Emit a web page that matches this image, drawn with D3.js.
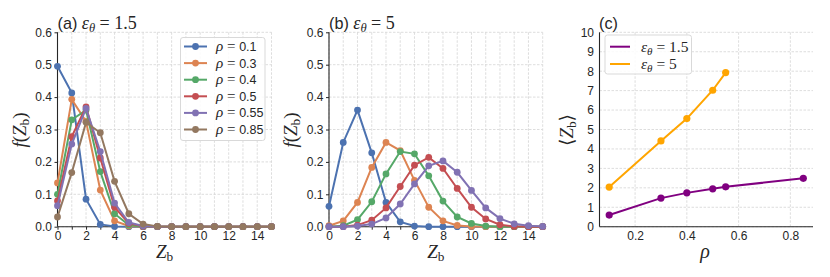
<!DOCTYPE html>
<html>
<head>
<meta charset="utf-8">
<script src="https://cdn.jsdelivr.net/npm/d3@7"></script>
<style>
body { margin: 0; background: #fff; }
svg text { font-family: "Liberation Sans", Arial, sans-serif; }
.math { font-family: "Liberation Serif", "DejaVu Serif", serif; }
</style>
</head>
<body>
<script>
// data
var zb = d3.range(0, 16);
var rhoLabels = ["0.1", "0.3", "0.4", "0.5", "0.55", "0.85"];
var colors = ["#4c72b0", "#dd8452", "#55a868", "#c44e52", "#8172b3", "#937860"];

// panel (a), eps = 1.5
var fA_01 = [0.495, 0.413, 0.085, 0.007, 0.001, 0, 0, 0, 0, 0, 0, 0, 0, 0, 0, 0];
var fA_03 = [0.135, 0.393, 0.325, 0.113, 0.018, 0.002, 0, 0, 0, 0, 0, 0, 0, 0, 0, 0];
var fA_04 = [0.100, 0.330, 0.360, 0.170, 0.040, 0.005, 0, 0, 0, 0, 0, 0, 0, 0, 0, 0];
var fA_05 = [0.080, 0.278, 0.370, 0.212, 0.060, 0.010, 0.001, 0, 0, 0, 0, 0, 0, 0, 0, 0];
var fA_055 = [0.065, 0.255, 0.365, 0.232, 0.073, 0.013, 0.002, 0, 0, 0, 0, 0, 0, 0, 0, 0];
var fA_085 = [0.030, 0.167, 0.322, 0.290, 0.140, 0.040, 0.008, 0.001, 0, 0, 0, 0, 0, 0, 0, 0];

// panel (b), eps = 5
var fB_01 = [0.063, 0.260, 0.360, 0.228, 0.075, 0.015, 0.002, 0, 0, 0, 0, 0, 0, 0, 0, 0];
var fB_03 = [0.003, 0.018, 0.075, 0.183, 0.260, 0.235, 0.143, 0.060, 0.018, 0.004, 0.001, 0, 0, 0, 0, 0];
var fB_04 = [0, 0.003, 0.022, 0.077, 0.163, 0.232, 0.225, 0.157, 0.079, 0.030, 0.010, 0.002, 0, 0, 0, 0];
var fB_05 = [0, 0, 0.005, 0.020, 0.058, 0.124, 0.190, 0.214, 0.180, 0.118, 0.060, 0.024, 0.006, 0.001, 0, 0];
var fB_055 = [0, 0, 0.002, 0.008, 0.027, 0.070, 0.132, 0.188, 0.203, 0.168, 0.112, 0.058, 0.025, 0.009, 0.003, 0.001];

// panel (c), mean Zb
var rhoC = [0.1, 0.3, 0.4, 0.5, 0.55, 0.85];
var meanEps15 = [0.60, 1.47, 1.74, 1.95, 2.05, 2.49];
var rhoC5 = [0.1, 0.3, 0.4, 0.5, 0.55];
var meanEps5 = [2.04, 4.41, 5.56, 7.02, 7.93];

var svg = d3.select("body").append("svg")
    .attr("width", 830)
    .attr("height", 277);

var plotTop = 32.3, plotBottom = 226.7;
var gridColor = "#d4d4d4", spineColor = "#262626";

// draw the grid, spines and ticks for one panel
function frame(xScale, yScale, xGrid, yGrid, xTicks, yTicks, xFmt, yFmt, tick) {
    var g = svg.append("g");
    var x0 = xScale.range()[0], x1 = xScale.range()[1];
    g.selectAll(".vg").data(xGrid).enter().append("line")
        .attr("x1", d => xScale(d)).attr("x2", d => xScale(d))
        .attr("y1", plotTop).attr("y2", plotBottom)
        .attr("stroke", gridColor).attr("stroke-width", 0.8).attr("stroke-dasharray", "2.5,1.5");
    g.selectAll(".hg").data(yGrid).enter().append("line")
        .attr("x1", x0).attr("x2", x1)
        .attr("y1", d => yScale(d)).attr("y2", d => yScale(d))
        .attr("stroke", gridColor).attr("stroke-width", 0.8).attr("stroke-dasharray", "2.5,1.5");

    var xa = svg.append("g")
        .attr("transform", "translate(0," + plotBottom + ")")
        .call(d3.axisBottom(xScale).tickValues(xTicks).tickFormat(xFmt).tickSize(tick).tickPadding(5 - tick));
    var ya = svg.append("g")
        .attr("transform", "translate(" + x0 + ",0)")
        .call(d3.axisLeft(yScale).tickValues(yTicks).tickFormat(yFmt).tickSize(tick).tickPadding(5.5 - tick));
    [xa, ya].forEach(function(a) {
        a.select(".domain").attr("stroke", spineColor).attr("stroke-width", 1.1);
        a.selectAll(".tick line").attr("stroke", spineColor);
        a.selectAll(".tick text").attr("fill", "#262626").style("font-size", "12px")
            .style("font-family", "Liberation Sans, Arial, sans-serif");
    });
    // replace the d3 domain path with plain spines
    xa.select(".domain").attr("d", "M" + x0 + ",0H" + x1);
    ya.select(".domain").attr("d", "M0," + yScale.range()[0] + "V" + yScale.range()[1]);
}

function series(xScale, yScale, xs, ys, color, r) {
    var line = d3.line()
        .x(function(d, i) { return xScale(xs[i]); })
        .y(function(d) { return yScale(d); });
    svg.append("path")
        .datum(ys)
        .attr("fill", "none")
        .attr("stroke", color)
        .attr("stroke-width", 2)
        .attr("d", line);
    svg.append("g").selectAll("circle").data(ys).enter().append("circle")
        .attr("cx", function(d, i) { return xScale(xs[i]); })
        .attr("cy", function(d) { return yScale(d); })
        .attr("r", r)
        .attr("fill", color);
}

function mathLabel(x, y, parts, size, rotate, anchor) {
    var t = svg.append("text")
        .attr("class", "math")
        .attr("text-anchor", anchor || "middle")
        .style("font-size", size + "px")
        .attr("fill", "#262626");
    if (rotate) t.attr("transform", "translate(" + x + "," + y + ") rotate(-90)");
    else t.attr("x", x).attr("y", y);
    parts.forEach(function(p) {
        var s = t.append("tspan").text(p.t);
        if (p.i) s.style("font-style", "italic");
        if (p.sub) s.attr("baseline-shift", "-25%").style("font-size", (size * 0.7) + "px");
        if (p.sans) s.style("font-family", "Liberation Sans, Arial, sans-serif").style("font-size", (size * 0.9) + "px");
    });
    return t;
}

function distPanel(left, right, data, tag, eps) {
    var x = d3.scaleLinear().domain([0, 15]).range([left, right]);
    var y = d3.scaleLinear().domain([0, 0.6]).range([plotBottom, plotTop]);
    // ticks on every integer, labels only on the even ones
    frame(x, y, d3.range(0, 16), d3.range(0, 0.61, 0.1),
        d3.range(0, 16), d3.range(0, 0.61, 0.1),
        function(d) { return d % 2 === 0 && d < 15 ? d : ""; }, d3.format(".1f"), 3);
    data.forEach(function(ys, k) { series(x, y, zb, ys, colors[k], 3.4); });

    mathLabel(left, 29, [{t: tag + " ", sans: true}, {t: "ε", i: true}, {t: "θ", i: true, sub: true}, {t: " = " + eps}], 18, false, "start");
    mathLabel(left - 32, 130, [{t: "f", i: true}, {t: "("}, {t: "Z", i: true}, {t: "b", sub: true}, {t: ")"}], 19, true);
    mathLabel((left + right) / 2, 258, [{t: "Z", i: true}, {t: "b", sub: true}], 19);
}

distPanel(57.5, 271.5, [fA_01, fA_03, fA_04, fA_05, fA_055, fA_085], "(a)", "1.5");
distPanel(329, 542.7, [fB_01, fB_03, fB_04, fB_05, fB_055], "(b)", "5");

// legend for (a)
var leg = svg.append("g");
leg.append("rect")
    .attr("x", 180.5).attr("y", 37.5).attr("width", 84.5).attr("height", 103)
    .attr("rx", 2.5).attr("fill", "#fff").attr("fill-opacity", 0.85)
    .attr("stroke", "#d9d9d9").attr("stroke-width", 1);
rhoLabels.forEach(function(lab, k) {
    var yy = 46.5 + k * 16.6;
    leg.append("line").attr("x1", 184).attr("x2", 207).attr("y1", yy).attr("y2", yy)
        .attr("stroke", colors[k]).attr("stroke-width", 2);
    leg.append("circle").attr("cx", 195.5).attr("cy", yy).attr("r", 3.4).attr("fill", colors[k]);
    var t = leg.append("text").attr("x", 216).attr("y", yy + 4.5).style("font-size", "12.5px").attr("fill", "#262626");
    t.append("tspan").attr("class", "math").style("font-style", "italic").style("font-size", "15px").text("ρ");
    t.append("tspan").attr("class", "math").style("font-size", "15px").text(" = ");
    t.append("tspan").text(lab);
});

// panel (c)
var xc = d3.scaleLinear().domain([0.0625, 0.8875]).range([599.5, 813]);
var yc = d3.scaleLinear().domain([0, 10]).range([plotBottom, plotTop]);
frame(xc, yc, [0.2, 0.4, 0.6, 0.8], d3.range(0, 11), [0.2, 0.4, 0.6, 0.8], d3.range(0, 11),
    d3.format(".1f"), d3.format("d"), 0);
series(xc, yc, rhoC, meanEps15, "#800080", 3.6);
series(xc, yc, rhoC5, meanEps5, "#ffa500", 3.6);

mathLabel(599, 29, [{t: "(c)", sans: true}], 18, false, "start");
mathLabel(573, 130, [{t: "⟨"}, {t: "Z", i: true}, {t: "b", sub: true}, {t: "⟩"}], 19, true);
mathLabel(705, 258, [{t: "ρ", i: true}], 20);

var legC = svg.append("g");
legC.append("rect")
    .attr("x", 605).attr("y", 35).attr("width", 86.5).attr("height", 39)
    .attr("rx", 2.5).attr("fill", "#fff").attr("fill-opacity", 0.85)
    .attr("stroke", "#d9d9d9").attr("stroke-width", 1);
[["#800080", "1.5"], ["#ffa500", "5"]].forEach(function(e, k) {
    var yy = 46.7 + k * 17.3;
    legC.append("line").attr("x1", 610).attr("x2", 630).attr("y1", yy).attr("y2", yy)
        .attr("stroke", e[0]).attr("stroke-width", 2);
    var t = legC.append("text").attr("class", "math").attr("x", 641).attr("y", yy + 5)
        .style("font-size", "15.5px").attr("fill", "#262626");
    t.append("tspan").style("font-style", "italic").text("ε");
    t.append("tspan").style("font-style", "italic").style("font-size", "11px").attr("baseline-shift", "-25%").text("θ");
    t.append("tspan").text(" = " + e[1]);
});
</script>
</body>
</html>
